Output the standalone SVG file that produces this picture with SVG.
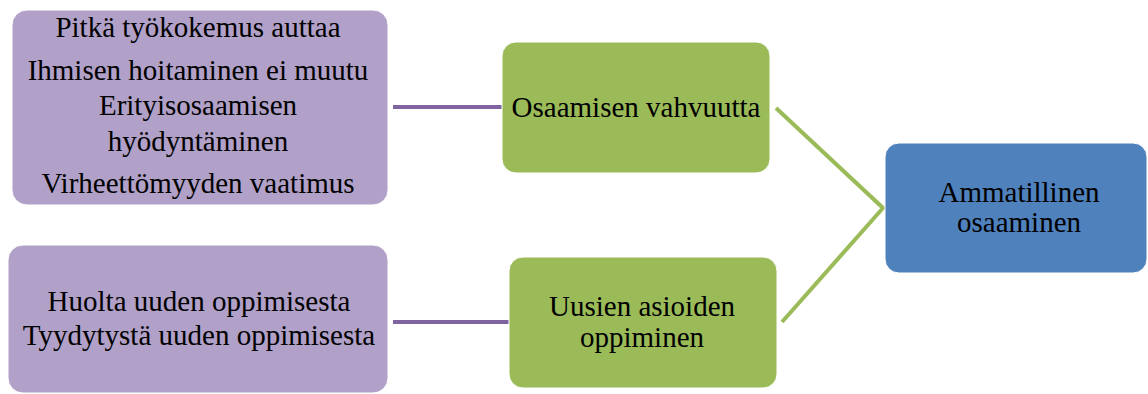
<svg xmlns="http://www.w3.org/2000/svg" width="1148" height="394" viewBox="0 0 1148 394">
  <style>
    .lav { fill: #B1A0C7; stroke: #FFFFFF; stroke-width: 1; }
    .grn { fill: #9BBB59; stroke: #FFFFFF; stroke-width: 1; }
    .blu { fill: #4F81BD; stroke: #FFFFFF; stroke-width: 1; }
    .lbl { font-family: "Liberation Serif", "Times New Roman", serif; font-size: 29px; fill: #000000; text-anchor: middle; }
    .pl { stroke: #8064A2; stroke-width: 4; fill: none; }
    .gl { stroke: #9BBB59; stroke-width: 4; fill: none; }
  </style>
  <rect width="1148" height="394" fill="#FFFFFF"/>

  <g id="connectors">
    <line class="pl" x1="393" y1="107" x2="502" y2="107"/>
    <line class="pl" x1="393" y1="322" x2="509" y2="322"/>
    <polyline class="gl" points="776,108 883,208 782,322"/>
  </g>

  <g id="node-strengths-details">
    <rect class="lav" x="12" y="10" width="376" height="195" rx="15"/>
    <text class="lbl" x="198" y="37">Pitkä työkokemus auttaa</text>
    <text class="lbl" x="198" y="80">Ihmisen hoitaminen ei muutu</text>
    <text class="lbl" x="198" y="115">Erityisosaamisen</text>
    <text class="lbl" x="198" y="151">hyödyntäminen</text>
    <text class="lbl" x="198" y="193">Virheettömyyden vaatimus</text>
  </g>

  <g id="node-learning-details">
    <rect class="lav" x="8" y="245" width="380" height="148" rx="15"/>
    <text class="lbl" x="199" y="311">Huolta uuden oppimisesta</text>
    <text class="lbl" x="199" y="345">Tyydytystä uuden oppimisesta</text>
  </g>

  <g id="node-strengths">
    <rect class="grn" x="502" y="42" width="268" height="131" rx="14"/>
    <text class="lbl" x="636" y="117">Osaamisen vahvuutta</text>
  </g>

  <g id="node-learning">
    <rect class="grn" x="509" y="257" width="268" height="131" rx="14"/>
    <text class="lbl" x="642" y="316">Uusien asioiden</text>
    <text class="lbl" x="642" y="347">oppiminen</text>
  </g>

  <g id="node-competence">
    <rect class="blu" x="885" y="143" width="262" height="130" rx="14"/>
    <text class="lbl" x="1019" y="202">Ammatillinen</text>
    <text class="lbl" x="1019" y="232">osaaminen</text>
  </g>
</svg>
